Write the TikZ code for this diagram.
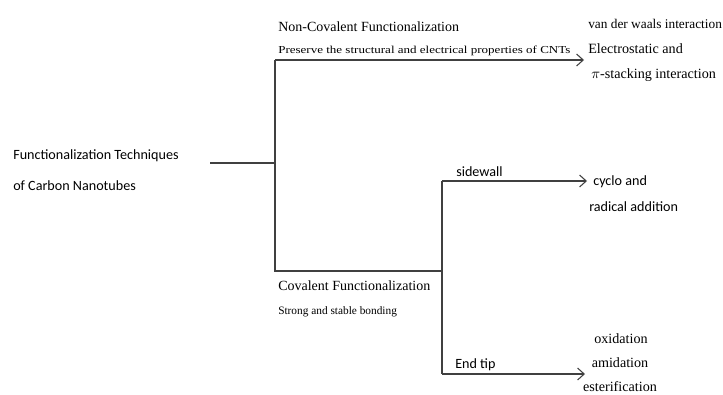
\documentclass[tikz,border=0pt]{standalone}
\usepackage{fontspec}
\setmainfont{Liberation Serif}
\newfontfamily\calfont{Carlito}
\newfontfamily\widefont[FakeStretch=1.22]{Liberation Serif}
\usetikzlibrary{arrows.meta}
\tikzset{
    branch/.style={draw=black!75, line width=0.8pt},
    tiparrow/.style={branch, -{Straight Barb[length=5pt,width=9pt]}},
    sanstext/.style={anchor=base west, inner sep=0pt, font=\calfont\fontsize{10.6}{12}\selectfont},
    headtext/.style={anchor=base west, inner sep=0pt, font=\fontsize{10.5}{12}\selectfont},
    smalltext/.style={anchor=base west, inner sep=0pt, font=\fontsize{8.5}{10}\selectfont},
    listtext/.style={anchor=base west, inner sep=0pt, font=\fontsize{10.6}{12}\selectfont}
}
\begin{document}
\begin{tikzpicture}[x=0.75pt, y=-0.75pt]
    \useasboundingbox (0,0) rectangle (723,394);

    % root
    \node[sanstext] (root1) at (13,159) {Functionalization Techniques};
    \node[sanstext] (root2) at (13,190) {of Carbon Nanotubes};
    \coordinate (rootend) at (210,163);
    \coordinate (split) at (275,163);
    \coordinate (ncov) at (275,60);
    \coordinate (cov) at (275,271);
    \coordinate (covsplit) at (442,271);
    \coordinate (side) at (442,181);
    \coordinate (tip) at (442,374);

    % non-covalent branch
    \node[headtext] (ncovhead) at (278,31) {Non-Covalent Functionalization};
    \node[smalltext, font=\widefont\fontsize{8}{10}\selectfont] (ncovsub) at (278,53) {Preserve the structural and electrical properties of CNTs};
    \node[listtext, font=\fontsize{10}{12}\selectfont] (vdw) at (588,28) {van der waals interaction};
    \node[listtext] (elec) at (588,53) {Electrostatic and};
    \node[listtext] (pist) at (591,78) {$\pi$-stacking interaction};
    \coordinate (ncovend) at (584,60);

    % covalent branch
    \node[headtext] (covhead) at (278,290) {Covalent Functionalization};
    \node[smalltext] (covsub) at (278,314) {Strong and stable bonding};
    \node[sanstext] (sidelab) at (456,176) {sidewall};
    \node[sanstext] (cyclo) at (593,185) {cyclo and};
    \node[sanstext] (radic) at (589,211) {radical addition};
    \coordinate (sideend) at (587,181);
    \node[sanstext] (tiplab) at (455,368) {End tip};
    \node[listtext, anchor=base] (oxid) at (621,343) {oxidation};
    \node[listtext, anchor=base] (amid) at (620,367) {amidation};
    \node[listtext, anchor=base] (ester) at (620,391) {esterification};
    \coordinate (tipend) at (585,374);

    % connectors
    \draw[branch] (rootend) -- (split);
    \draw[branch] (ncov) -- (cov) -- (covsplit);
    \draw[tiparrow] (ncov) -- (ncovend);
    \draw[branch] (side) -- (tip);
    \draw[tiparrow] (side) -- (sideend);
    \draw[tiparrow] (tip) -- (tipend);
\end{tikzpicture}
\end{document}
